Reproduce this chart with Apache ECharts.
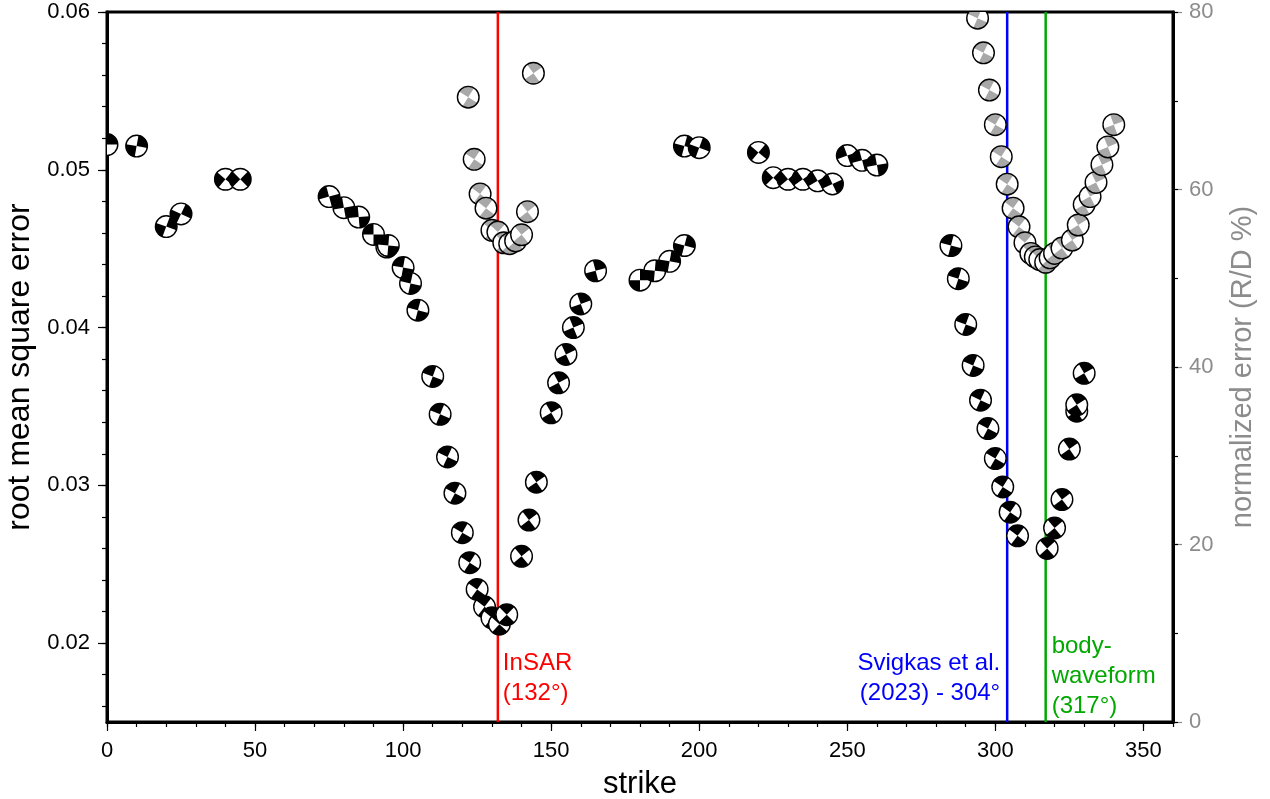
<!DOCTYPE html>
<html><head><meta charset="utf-8">
<script src="https://cdn.jsdelivr.net/npm/echarts@6/dist/echarts.min.js"></script>
<style>html,body{margin:0;padding:0;background:#fff}#c{width:1270px;height:799px}</style>
</head><body><div id="c"></div>
<script>
// ---- data ----
const rmsStrike = [0,10,20,25,40,45,75,80,85,90,94.5,95,100,102.5,105,110,112.5,115,117.5,120,122.5,125,127.5,130,132.5,135,140,142.5,145,150,152.5,155,157.5,160,165,180,185,190,195,195,200,220,225,230,235,240,245,250,255,260,285,287.5,290,292.5,295,297.5,300,302.5,305,307.5,317.5,320,322.5,325,327.5,327.5,330];
const rmsValue  = [0.0516,0.0515,0.0464,0.0472,0.0494,0.0494,0.0483,0.0476,0.0470,0.0459,0.0451,0.0452,0.0438,0.0428,0.0411,0.0369,0.0345,0.0318,0.0295,0.0270,0.0251,0.0234,0.0223,0.0216,0.0212,0.0218,0.0255,0.0278,0.0302,0.0346,0.0365,0.0383,0.0400,0.0415,0.0436,0.0430,0.0436,0.0442,0.0452,0.0515,0.0514,0.0511,0.0495,0.0494,0.0494,0.0493,0.0491,0.0509,0.0506,0.0503,0.0452,0.0431,0.0402,0.0376,0.0354,0.0336,0.0317,0.0299,0.0283,0.0268,0.0260,0.0273,0.0291,0.0323,0.0347,0.0351,0.0371];
const normStrike = [122,124,126,128,130,132,134,136,138,140,142,144,294,296,298,300,302,304,306,308,310,312,313.5,315,317,318.5,320,322.5,326,328,330,332,334,336,338,340];
const normValue  = [70.4,63.4,59.5,57.9,55.4,55.2,54.0,53.9,54.2,54.9,57.5,73.1,79.3,75.4,71.2,67.3,63.7,60.6,57.9,55.8,54.0,52.8,52.4,52.1,51.8,52.3,52.8,53.4,54.3,56.0,58.3,59.2,60.8,62.8,64.8,67.3];
const refStrike = [132, 304, 317];
const refLabel  = ['InSAR\n(132°)', 'Svigkas et al.\n (2023) - 304°', 'body-\nwaveform\n(317°)'];
const xMajorTicks = [0,50,100,150,200,250,300,350];
const xMinorTicks = [0,10,20,30,40,50,60,70,80,90,100,110,120,130,140,150,160,170,180,190,200,210,220,230,240,250,260,270,280,290,300,310,320,330,340,350,360];
const yLeftTicks = [0.02,0.03,0.04,0.05,0.06];
const yLeftMinor = [0.016,0.018,0.02,0.022,0.024,0.026,0.028,0.03,0.032,0.034,0.036,0.038,0.04,0.042,0.044,0.046,0.048,0.05,0.052,0.054,0.056,0.058,0.06];
const yRightTicks = [0,20,40,60,80];
const yRightMinor = [0,10,20,30,40,50,60,70,80];

// ---- chart ----
const FONT = '"Liberation Sans", Arial, Helvetica, sans-serif';
const YMIN = 0.015, YMAX = 0.06;
const chart = echarts.init(document.getElementById('c'), null, {renderer: 'canvas'});

function ballRender(fill) {
  return function (params, api) {
    const s = api.value(0);
    const p = api.coord([s, api.value(1)]);
    const r = 10.8;
    const base = (s + 45 - 90) * Math.PI / 180;
    const q = Math.PI / 4;
    return {
      type: 'group',
      children: [
        {type: 'circle', shape: {cx: p[0], cy: p[1], r: r}, style: {fill: '#fff'}},
        {type: 'sector', shape: {cx: p[0], cy: p[1], r: r, r0: 0, startAngle: base - q, endAngle: base + q, clockwise: true}, style: {fill: fill}},
        {type: 'sector', shape: {cx: p[0], cy: p[1], r: r, r0: 0, startAngle: base + 3 * q, endAngle: base + 5 * q, clockwise: true}, style: {fill: fill}},
        {type: 'circle', shape: {cx: p[0], cy: p[1], r: r}, style: {fill: 'none', stroke: '#000', lineWidth: 1.4}}
      ]
    };
  };
}

const refColors = ['#ff0000', '#0000ff', '#00a800'];
const refLabelCfg = [
  {y: 0.01775, dx: 5, align: 'left'},
  {y: 0.01775, dx: -7, align: 'right'},
  {y: 0.0179, dx: 6, align: 'left'}
];

const series = [];
refStrike.forEach((s, i) => {
  series.push({
    type: 'line', xAxisIndex: 0, yAxisIndex: 0, z: 1, silent: true,
    symbol: 'none', animation: false,
    lineStyle: {color: refColors[i], width: 2.5},
    data: [[s, YMIN], [s, YMAX]]
  });
});
series.push({
  type: 'custom', xAxisIndex: 0, yAxisIndex: 0, z: 3, clip: true, animation: false,
  renderItem: ballRender('#000'),
  encode: {x: 0, y: 1},
  data: rmsStrike.map((s, i) => [s, rmsValue[i]])
});
series.push({
  type: 'custom', xAxisIndex: 0, yAxisIndex: 1, z: 4, clip: true, animation: false,
  renderItem: ballRender('#a8a8a8'),
  encode: {x: 0, y: 1},
  data: normStrike.map((s, i) => [s, normValue[i]])
});
series.push({
  type: 'custom', xAxisIndex: 0, yAxisIndex: 0, z: 5, animation: false, silent: true,
  renderItem: function (params, api) {
    const i = params.dataIndex;
    const cfg = refLabelCfg[i];
    const p = api.coord([api.value(0), cfg.y]);
    return {
      type: 'text', x: p[0] + cfg.dx, y: p[1],
      style: {text: refLabel[i], fill: refColors[i], fontSize: 24, fontFamily: FONT,
              align: cfg.align, verticalAlign: 'middle', lineHeight: 30}
    };
  },
  encode: {x: 0, y: 1},
  data: refStrike.map(s => [s, 0.018])
});

const axisLine = {show: true, lineStyle: {color: '#000', width: 3}};
const gridRect = {left: 107, top: 12, right: 97, bottom: 77, containLabel: false, outerBoundsMode: 'none'};
chart.setOption({
  animation: false,
  backgroundColor: '#fff',
  grid: [
    Object.assign({show: true, borderColor: '#000', borderWidth: 3}, gridRect),
    Object.assign({show: false}, gridRect)
  ],
  xAxis: [
    {type: 'value', gridIndex: 0, min: 0, max: 360, position: 'bottom',
     name: 'strike', nameLocation: 'middle', nameGap: 47,
     nameTextStyle: {fontSize: 31, fontFamily: FONT, color: '#000'},
     axisLine: axisLine, splitLine: {show: false},
     axisTick: {show: true, inside: false, length: 9, customValues: xMajorTicks, lineStyle: {color: '#000', width: 1.2}},
     axisLabel: {show: true, customValues: xMajorTicks, fontSize: 22, fontFamily: FONT, color: '#000', margin: 18}},
    {type: 'value', gridIndex: 1, min: 0, max: 360, position: 'bottom',
     axisLine: {show: false}, splitLine: {show: false},
     axisTick: {show: true, inside: false, length: 5, customValues: xMinorTicks, lineStyle: {color: '#000', width: 1.2}},
     axisLabel: {show: false}}
  ],
  yAxis: [
    {type: 'value', gridIndex: 0, min: YMIN, max: YMAX, position: 'left',
     name: 'root mean square error', nameLocation: 'middle', nameGap: 66, nameRotate: 90,
     nameTextStyle: {fontSize: 32, fontFamily: FONT, color: '#000'},
     axisLine: axisLine, splitLine: {show: false},
     axisTick: {show: true, inside: false, length: 9, customValues: yLeftTicks, lineStyle: {color: '#000', width: 1.2}},
     axisLabel: {show: true, customValues: yLeftTicks, fontSize: 22, fontFamily: FONT, color: '#000', margin: 17,
                 formatter: v => v.toFixed(2)}},
    {type: 'value', gridIndex: 0, min: 0, max: 80, position: 'right',
     name: 'normalized error (R/D %)', nameLocation: 'middle', nameGap: 55, nameRotate: 90,
     nameTextStyle: {fontSize: 29, fontFamily: FONT, color: '#8c8c8c'},
     axisLine: axisLine, splitLine: {show: false},
     axisTick: {show: true, inside: false, length: 9, customValues: yRightTicks, lineStyle: {color: '#8c8c8c', width: 1.2}},
     axisLabel: {show: true, customValues: yRightTicks, fontSize: 22, fontFamily: FONT, color: '#8c8c8c', margin: 16}},
    {type: 'value', gridIndex: 1, min: YMIN, max: YMAX, position: 'left',
     axisLine: {show: false}, splitLine: {show: false},
     axisTick: {show: true, inside: false, length: 5, customValues: yLeftMinor, lineStyle: {color: '#000', width: 1.2}},
     axisLabel: {show: false}},
    {type: 'value', gridIndex: 1, min: 0, max: 80, position: 'right',
     axisLine: {show: false}, splitLine: {show: false},
     axisTick: {show: true, inside: false, length: 5, customValues: yRightMinor, lineStyle: {color: '#000', width: 1.2}},
     axisLabel: {show: false}}
  ],
  series: series
});
</script>
</body></html>
